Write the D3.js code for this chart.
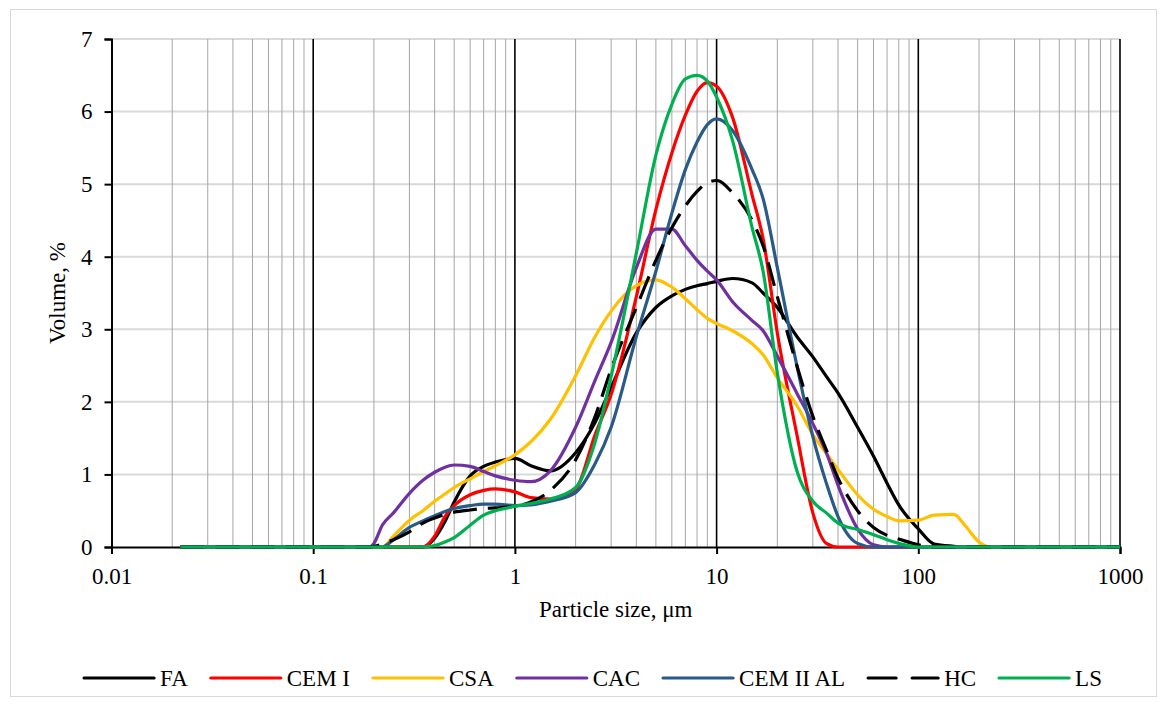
<!DOCTYPE html>
<html>
<head>
<meta charset="utf-8">
<script src="https://cdn.jsdelivr.net/npm/d3@7"></script>
<style>
  body { margin: 0; background: #fff; }
  svg { display: block; font-family: "Liberation Serif", "Times New Roman", serif; }
</style>
</head>
<body>
<svg id="chart" width="1167" height="707"></svg>
<script>
// particle sizes (um) shared by every series
const sizes = [0.022, 0.1, 0.19, 0.2, 0.22, 0.25, 0.3, 0.35, 0.4, 0.45, 0.5, 0.6, 0.7, 0.8,
  1, 1.2, 1.5, 2, 2.5, 3, 4, 5, 6, 7, 8, 9, 10, 12, 15, 17, 20, 25, 30, 35, 40, 50, 60, 70,
  80, 100, 120, 150, 170, 200, 230, 300, 1000];

// volume, %
const faVals = [0, 0, 0, 0, 0, 0, 0, 0, 0.12, 0.35, 0.62, 0.98, 1.11, 1.17,
  1.22, 1.12, 1.05, 1.3, 1.72, 2.2, 2.95, 3.3, 3.46, 3.55, 3.6, 3.63, 3.66, 3.7, 3.64, 3.5, 3.3, 2.9, 2.62, 2.35, 2.12, 1.65, 1.25, 0.88,
  0.58, 0.25, 0.04, 0.01, 0, 0, 0, 0, 0];
const cem1Vals = [0, 0, 0, 0, 0, 0, 0, 0, 0.15, 0.42, 0.57, 0.72, 0.78, 0.8,
  0.76, 0.68, 0.66, 0.8, 1.55, 2.1, 3.45, 4.65, 5.43, 5.95, 6.28, 6.4, 6.35, 5.92, 4.85, 4.25, 2.95, 1.55, 0.47, 0.05, 0, 0, 0, 0,
  0, 0, 0, 0, 0, 0, 0, 0, 0];
const csaVals = [0, 0, 0, 0, 0, 0.15, 0.37, 0.5, 0.63, 0.73, 0.82, 0.94, 1.04, 1.12,
  1.27, 1.45, 1.76, 2.36, 2.9, 3.25, 3.6, 3.68, 3.58, 3.42, 3.27, 3.15, 3.08, 2.98, 2.8, 2.65, 2.33, 1.95, 1.55, 1.29, 1.07, 0.72, 0.52, 0.42,
  0.36, 0.37, 0.44, 0.45, 0.3, 0.07, 0, 0, 0];
const cacVals = [0, 0, 0, 0.05, 0.3, 0.47, 0.74, 0.92, 1.03, 1.1, 1.13, 1.11, 1.04, 0.98,
  0.92, 0.9, 1.05, 1.65, 2.3, 2.82, 3.85, 4.38, 4.38, 4.15, 3.95, 3.8, 3.68, 3.38, 3.12, 2.98, 2.63, 2.12, 1.7, 1.3, 0.85, 0.25, 0.03, 0,
  0, 0, 0, 0, 0, 0, 0, 0, 0];
const cem2Vals = [0, 0, 0, 0, 0, 0.1, 0.27, 0.36, 0.43, 0.49, 0.53, 0.57, 0.59, 0.59,
  0.57, 0.58, 0.63, 0.75, 1.15, 1.65, 2.9, 3.8, 4.6, 5.2, 5.58, 5.82, 5.9, 5.74, 5.2, 4.8, 3.85, 2.5, 1.52, 0.88, 0.42, 0.05, 0, 0,
  0, 0, 0, 0, 0, 0, 0, 0, 0];
const hcVals = [0, 0, 0, 0.01, 0.04, 0.1, 0.21, 0.33, 0.4, 0.45, 0.48, 0.51, 0.53, 0.54,
  0.56, 0.62, 0.78, 1.2, 1.8, 2.45, 3.3, 3.95, 4.4, 4.7, 4.9, 5.02, 5.05, 4.88, 4.5, 4.15, 3.45, 2.5, 1.8, 1.34, 0.95, 0.5, 0.27, 0.16,
  0.11, 0.03, 0, 0, 0, 0, 0, 0, 0];
const lsVals = [0, 0, 0, 0, 0, 0, 0, 0, 0.02, 0.07, 0.13, 0.3, 0.44, 0.5,
  0.56, 0.6, 0.66, 0.82, 1.45, 2.35, 4.05, 5.4, 6.1, 6.45, 6.5, 6.42, 6.2, 5.6, 4.4, 3.8, 2.4, 1.05, 0.63, 0.47, 0.33, 0.24, 0.17, 0.1,
  0.05, 0, 0, 0, 0, 0, 0, 0, 0];

const seriesNames = ["FA", "CEM I", "CSA", "CAC", "CEM II AL", "HC", "LS"];
const seriesColors = ["#000000", "#ff0000", "#ffc000", "#7030a0", "#2a5a87", "#000000", "#00b050"];
const seriesDashed = [false, false, false, false, false, true, false];
const seriesVals = [faVals, cem1Vals, csaVals, cacVals, cem2Vals, hcVals, lsVals];

const xTicks = [0.01, 0.1, 1, 10, 100, 1000];
const yTicks = [0, 1, 2, 3, 4, 5, 6, 7];

const svg = d3.select("#chart");
const plotL = 111.5, plotR = 1120, plotT = 39, plotB = 547;

const x = d3.scaleLog().domain([0.01, 1000]).range([plotL, plotR]);
const y = d3.scaleLinear().domain([0, 7]).range([plotB, plotT]);

// outer frame
svg.append("rect")
  .attr("x", 10.5).attr("y", 9.5).attr("width", 1146).attr("height", 687)
  .attr("fill", "#fff").attr("stroke", "#d9d9d9").attr("stroke-width", 1);

// horizontal grid
svg.append("g").selectAll("line").data(yTicks.filter(d => d > 0)).join("line")
  .attr("x1", plotL).attr("x2", plotR)
  .attr("y1", d => y(d)).attr("y2", d => y(d))
  .attr("stroke", "#d9d9d9").attr("stroke-width", 2);

// minor vertical grid (2..9 of each decade)
const minor = [];
xTicks.slice(0, -1).forEach(d => { for (let k = 2; k <= 9; k++) minor.push(d * k); });
svg.append("g").selectAll("line").data(minor).join("line")
  .attr("x1", d => x(d)).attr("x2", d => x(d))
  .attr("y1", plotT).attr("y2", plotB)
  .attr("stroke", "#a6a6a6").attr("stroke-width", 1);

// major vertical grid
svg.append("g").selectAll("line").data(xTicks.slice(1)).join("line")
  .attr("x1", d => x(d)).attr("x2", d => x(d))
  .attr("y1", plotT).attr("y2", plotB)
  .attr("stroke", "#000").attr("stroke-width", 1.6);

// axes
const yAxis = svg.append("g")
  .attr("transform", `translate(${plotL},0)`)
  .call(d3.axisLeft(y).tickValues(yTicks).tickSize(7).tickPadding(12).tickFormat(d3.format("d")));
const xAxis = svg.append("g")
  .attr("transform", `translate(0,${plotB})`)
  .call(d3.axisBottom(x).tickValues(xTicks).tickSize(7).tickPadding(14).tickFormat(d => String(d)));

[yAxis, xAxis].forEach(g => {
  g.select(".domain").attr("stroke", "#000").attr("stroke-width", 2);
  g.selectAll(".tick line").attr("stroke", "#000").attr("stroke-width", 2);
  g.selectAll(".tick text").attr("fill", "#000")
    .style("font-family", '"Liberation Serif", "Times New Roman", serif')
    .style("font-size", "23px");
});
xAxis.selectAll(".tick text").attr("dy", "0.71em");

// series lines
const line = d3.line()
  .x((d, i) => x(sizes[i]))
  .y(d => y(d))
  .curve(d3.curveMonotoneX);

svg.append("g").selectAll("path").data(seriesVals).join("path")
  .attr("d", line)
  .attr("fill", "none")
  .attr("stroke", (d, i) => seriesColors[i])
  .attr("stroke-width", 3.2)
  .attr("stroke-linejoin", "round")
  .attr("stroke-dasharray", (d, i) => seriesDashed[i] ? "24,11" : null);

// axis titles
svg.append("text")
  .attr("x", (plotL + plotR) / 2).attr("y", 617)
  .attr("text-anchor", "middle")
  .style("font-size", "23px")
  .text("Particle size, μm");

svg.append("text")
  .attr("transform", `translate(65,${(plotT + plotB) / 2}) rotate(-90)`)
  .attr("text-anchor", "middle")
  .style("font-size", "23px")
  .text("Volume, %");

// legend
const legend = svg.append("g").attr("transform", "translate(0,678)");
const items = legend.selectAll("g").data(seriesNames).join("g");
items.append("line")
  .attr("x1", 0).attr("x2", 70).attr("y1", 0).attr("y2", 0)
  .attr("stroke", (d, i) => seriesColors[i])
  .attr("stroke-width", 3.2)
  .attr("stroke-linecap", "round")
  .attr("stroke-dasharray", (d, i) => seriesDashed[i] ? "28,16" : null);
items.append("text")
  .attr("x", 76).attr("y", 0).attr("dy", "0.35em")
  .style("font-size", "23px")
  .text(d => d);

let pos = 0;
const offsets = [];
items.each(function () {
  offsets.push(pos);
  pos += 76 + this.querySelector("text").getComputedTextLength() + 23;
});
const startX = 593 - (pos - 23) / 2;
items.attr("transform", (d, i) => `translate(${startX + offsets[i]},0)`);
</script>
</body>
</html>
